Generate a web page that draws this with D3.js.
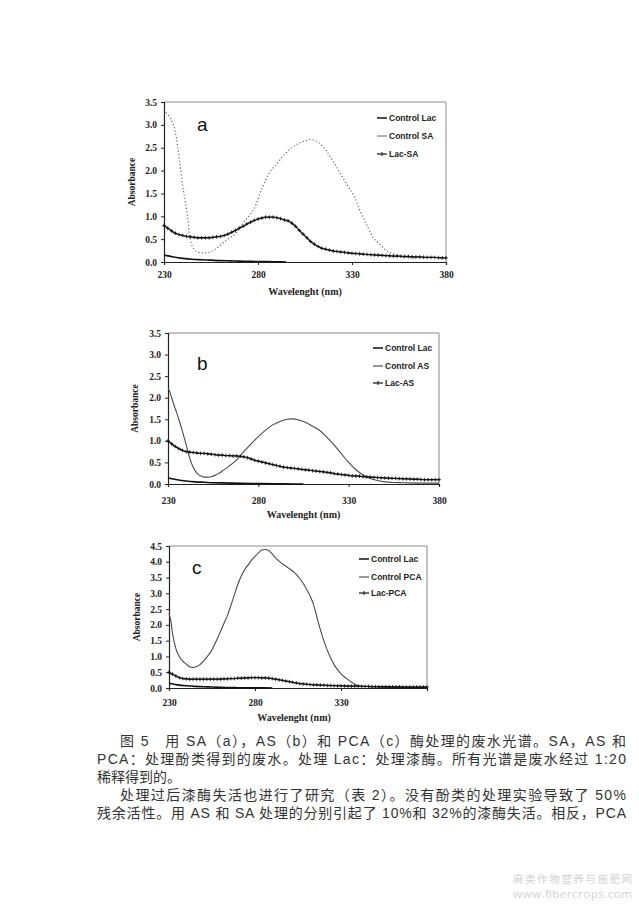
<!DOCTYPE html>
<html><head><meta charset="utf-8">
<script src="https://cdn.jsdelivr.net/npm/d3@7"></script>
<style>body{margin:0;background:#fff;overflow:hidden}</style>
</head><body>
<script>
// ---------- DATA ----------
const xTicksAB = [230, 280, 330, 380];
const xTicksC = [230, 280, 330];
const yTicksAB = [0, 0.5, 1.0, 1.5, 2.0, 2.5, 3.0, 3.5];
const yTicksC = [0, 0.5, 1.0, 1.5, 2.0, 2.5, 3.0, 3.5, 4.0, 4.5];
const legendA = ["Control Lac", "Control SA", "Lac-SA"];
const legendB = ["Control Lac", "Control AS", "Lac-AS"];
const legendC = ["Control Lac", "Control PCA", "Lac-PCA"];

// wavelengths of the marker series (every 2 nm)
const wlMarked = d3.range(230, 381, 2);

// Panel a
const ctrlLacA = [[230,0.15],[235,0.11],[240,0.08],[245,0.06],[250,0.05],[255,0.04],[260,0.03],[265,0.025],[270,0.02],[275,0.015],[280,0.01],[285,0.01],[290,0.005],[295,0.0]];
const ctrlSA = [[230,3.33],[232,3.22],[234,3.10],[236,2.85],[238,2.30],[240,1.65],[242,1.15],[244,0.50],[246,0.28],[248,0.22],[250,0.20],[252,0.20],[254,0.21],[256,0.25],[258,0.30],[260,0.37],[264,0.50],[268,0.62],[272,0.85],[276,1.05],[278,1.17],[282,1.60],[286,1.95],[290,2.15],[294,2.35],[298,2.50],[302,2.60],[306,2.66],[308,2.68],[310,2.66],[312,2.62],[316,2.45],[320,2.20],[324,1.92],[328,1.65],[331,1.45],[334,1.15],[338,0.80],[341,0.55],[345,0.38],[348,0.26],[352,0.18],[356,0.12],[360,0.10],[364,0.08]];
const lacSA = [0.80,0.74,0.68,0.63,0.60,0.58,0.56,0.55,0.54,0.53,0.53,0.53,0.53,0.54,0.55,0.56,0.58,0.61,0.65,0.69,0.74,0.78,0.83,0.87,0.91,0.94,0.96,0.98,0.98,0.98,0.97,0.95,0.92,0.90,0.85,0.78,0.69,0.61,0.53,0.45,0.39,0.34,0.30,0.28,0.26,0.24,0.23,0.22,0.21,0.20,0.19,0.185,0.18,0.17,0.165,0.16,0.155,0.15,0.145,0.14,0.135,0.13,0.13,0.125,0.12,0.12,0.115,0.11,0.11,0.105,0.10,0.10,0.10,0.095,0.09,0.09];

// Panel b
const ctrlLacB = [[230,0.14],[235,0.10],[240,0.07],[245,0.05],[250,0.04],[255,0.03],[260,0.025],[270,0.015],[280,0.01],[290,0.005],[300,0.0],[305,0.0]];
const ctrlAS = [[230,2.22],[231,2.14],[232,2.00],[234,1.75],[236,1.50],[238,1.22],[240,0.92],[242,0.60],[244,0.38],[246,0.25],[248,0.19],[250,0.16],[252,0.16],[254,0.17],[256,0.20],[258,0.24],[260,0.30],[264,0.42],[268,0.56],[272,0.75],[276,0.93],[280,1.10],[284,1.25],[288,1.37],[292,1.45],[296,1.50],[299,1.51],[302,1.49],[306,1.43],[310,1.34],[314,1.24],[318,1.08],[322,0.90],[326,0.70],[330,0.50],[334,0.33],[338,0.21],[342,0.13],[346,0.08],[350,0.05],[355,0.035],[360,0.03],[370,0.02],[380,0.02]];
const lacAS = [1.00,0.93,0.87,0.82,0.78,0.75,0.74,0.73,0.72,0.71,0.71,0.70,0.69,0.68,0.67,0.67,0.66,0.66,0.65,0.65,0.64,0.63,0.61,0.58,0.55,0.53,0.51,0.49,0.47,0.45,0.43,0.41,0.39,0.38,0.37,0.36,0.35,0.34,0.33,0.32,0.31,0.30,0.29,0.28,0.27,0.26,0.24,0.23,0.22,0.21,0.20,0.19,0.185,0.18,0.17,0.165,0.16,0.155,0.15,0.145,0.14,0.135,0.13,0.13,0.125,0.12,0.12,0.115,0.11,0.11,0.105,0.10,0.10,0.10,0.10,0.10];

// Panel c
const ctrlLacC = [[230,0.15],[235,0.10],[240,0.07],[245,0.05],[250,0.04],[255,0.03],[260,0.02],[270,0.01],[280,0.005],[290,0.0]];
const ctrlPCA = [[230,2.35],[231,2.15],[232,1.75],[234,1.25],[236,1.00],[238,0.85],[240,0.76],[242,0.67],[244,0.65],[246,0.68],[248,0.74],[250,0.85],[252,0.98],[254,1.12],[256,1.32],[258,1.55],[260,1.80],[262,2.05],[264,2.30],[266,2.62],[268,2.95],[270,3.28],[272,3.55],[274,3.75],[276,3.90],[278,4.05],[280,4.17],[282,4.28],[284,4.37],[286,4.39],[288,4.36],[290,4.25],[292,4.12],[294,4.02],[296,3.93],[298,3.86],[300,3.78],[302,3.70],[304,3.60],[306,3.47],[308,3.32],[310,3.13],[312,2.92],[314,2.65],[316,2.25],[318,1.85],[320,1.50],[322,1.20],[324,0.95],[326,0.74],[328,0.58],[330,0.45],[332,0.35],[334,0.27],[336,0.19],[338,0.12],[340,0.08],[344,0.05],[350,0.03],[360,0.02],[370,0.02],[380,0.02]];
const lacPCA = [0.50,0.44,0.38,0.33,0.30,0.29,0.28,0.28,0.28,0.28,0.28,0.28,0.28,0.28,0.28,0.28,0.29,0.29,0.30,0.30,0.31,0.31,0.32,0.32,0.33,0.33,0.33,0.32,0.32,0.31,0.30,0.28,0.26,0.24,0.22,0.20,0.18,0.16,0.14,0.13,0.12,0.11,0.10,0.10,0.09,0.09,0.08,0.08,0.075,0.07,0.07,0.065,0.06,0.06,0.06,0.055,0.05,0.05,0.05,0.045,0.045,0.04,0.04,0.04,0.04,0.035,0.035,0.035,0.03,0.03,0.03,0.03,0.03,0.03,0.03,0.03];

const captionLines = [
  "图 5　用 SA（a），AS（b）和 PCA（c）酶处理的废水光谱。SA，AS 和",
  "PCA：处理酚类得到的废水。处理 Lac：处理漆酶。所有光谱是废水经过 1:20",
  "稀释得到的。",
  "处理过后漆酶失活也进行了研究（表 2）。没有酚类的处理实验导致了 50%",
  "残余活性。用 AS 和 SA 处理的分别引起了 10%和 32%的漆酶失活。相反，PCA"
];
const watermark = ["麻类作物营养与施肥网", "www.fibercrops.com"];

// ---------- DRAW ----------
const W = 639, H = 905;
const svg = d3.select("body").append("svg").attr("width", W).attr("height", H);
svg.append("rect").attr("width", W).attr("height", H).attr("fill", "#fff");

const serif = "'Liberation Serif','DejaVu Serif',serif";
const sans = "'Liberation Sans',Arial,sans-serif";

const toPairs = arr => arr.map((v, i) => [wlMarked[i], v]);

const panels = [
  {letter:"a", L:164, R:446, T:102, B:262, ymax:3.5, yTicks:yTicksAB, xTicks:xTicksAB,
   letterPos:[197,124], legX:377, legY:[118,136,154], legend:legendA, xLabDy:12, titleY:291, yTitleX:132,
   series:[{d:ctrlLacA, s:"lac"},{d:ctrlSA, s:"dot"},{d:toPairs(lacSA), s:"mark"}]},
  {letter:"b", L:168, R:439, T:333, B:484, ymax:3.5, yTicks:yTicksAB, xTicks:xTicksAB,
   letterPos:[197,363], legX:373, legY:[348,366,383], legend:legendB, xLabDy:16, titleY:514, yTitleX:135,
   series:[{d:ctrlLacB, s:"lac"},{d:ctrlAS, s:"gray"},{d:toPairs(lacAS), s:"mark"}]},
  {letter:"c", L:169, R:427, T:546, B:688, ymax:4.5, yTicks:yTicksC, xTicks:xTicksC,
   letterPos:[192,567], legX:359, legY:[559,577,593], legend:legendC, xLabDy:14, titleY:717, yTitleX:137,
   series:[{d:ctrlLacC, s:"lac"},{d:ctrlPCA, s:"gray"},{d:toPairs(lacPCA), s:"mark"}]}
];

panels.forEach(p => {
  const x = d3.scaleLinear().domain([230, 380]).range([p.L, p.R]);
  const y = d3.scaleLinear().domain([0, p.ymax]).range([p.B, p.T]);
  const g = svg.append("g");

  // frame (top/right gray)
  g.append("path").attr("d", `M${p.L},${p.T}H${p.R}V${p.B}`).attr("fill","none").attr("stroke","#8a8a8a").attr("stroke-width",1);

  // axes
  const ya = g.append("g").attr("transform", `translate(${p.L},0)`)
    .call(d3.axisLeft(y).tickValues(p.yTicks).tickFormat(d3.format(".1f")).tickSize(3).tickPadding(4));
  const xa = g.append("g").attr("transform", `translate(0,${p.B})`)
    .call(d3.axisBottom(x).tickValues(p.xTicks).tickFormat(d3.format("d")).tickSize(3).tickPadding(p.xLabDy - 6));
  [ya, xa].forEach(a => {
    a.select(".domain").attr("stroke", "#222").attr("stroke-width", 1.2);
    a.selectAll(".tick line").attr("stroke", "#222");
    a.selectAll("text").attr("font-family", serif).attr("font-weight", "bold").attr("font-size", 9.5).attr("fill", "#222");
  });

  const line = d3.line().x(d => x(d[0])).y(d => y(d[1])).curve(d3.curveMonotoneX);

  p.series.forEach(s => {
    const path = g.append("path").attr("d", line(s.d)).attr("fill", "none");
    if (s.s === "lac") path.attr("stroke", "#111").attr("stroke-width", 1.6);
    else if (s.s === "dot") path.attr("stroke", "#666").attr("stroke-width", 1.2).attr("stroke-dasharray", "1.2,2.2");
    else if (s.s === "gray") path.attr("stroke", "#4a4a4a").attr("stroke-width", 1.1);
    else {
      path.attr("stroke", "#111").attr("stroke-width", 1.3);
      g.append("g").selectAll("path").data(s.d).join("path")
        .attr("d", d => `M${x(d[0])-1.8},${y(d[1])}h3.6M${x(d[0])},${y(d[1])-1.8}v3.6`)
        .attr("stroke", "#111").attr("stroke-width", 0.9);
    }
  });

  // panel letter
  g.append("text").attr("x", p.letterPos[0]).attr("y", p.letterPos[1]).attr("dominant-baseline","central")
    .attr("font-family", sans).attr("font-size", 19).attr("fill", "#111").text(p.letter);

  // legend
  p.legend.forEach((name, i) => {
    const ly = p.legY[i];
    const st = p.series[i].s;
    const lg = g.append("g");
    const l = lg.append("line").attr("x1", p.legX).attr("x2", p.legX + 10).attr("y1", ly).attr("y2", ly);
    if (st === "lac") l.attr("stroke", "#111").attr("stroke-width", 1.5);
    else if (st === "dot") l.attr("stroke", "#666").attr("stroke-width", 1);
    else if (st === "gray") l.attr("stroke", "#444").attr("stroke-width", 1.1);
    else {
      l.attr("stroke", "#111").attr("stroke-width", 1.2);
      lg.append("path").attr("d", `M${p.legX+5},${ly-2}v4`).attr("stroke", "#111").attr("stroke-width", 1);
    }
    lg.append("text").attr("x", p.legX + 12).attr("y", ly).attr("dominant-baseline", "central")
      .attr("font-family", sans).attr("font-weight", "bold").attr("font-size", 8.5).attr("fill", "#222").text(name);
  });

  // axis titles
  g.append("text").attr("x", (p.L + p.R) / 2 + (p.letter==="c" ? -4 : 0)).attr("y", p.titleY)
    .attr("text-anchor", "middle").attr("dominant-baseline", "central")
    .attr("font-family", serif).attr("font-weight", "bold").attr("font-size", 10).attr("fill", "#222")
    .text("Wavelenght (nm)");
  g.append("text").attr("transform", `translate(${p.yTitleX},${(p.T + p.B) / 2}) rotate(-90)`)
    .attr("text-anchor", "middle").attr("dominant-baseline", "central")
    .attr("font-family", serif).attr("font-weight", "bold").attr("font-size", 9.5).attr("fill", "#222")
    .text("Absorbance");
});

// caption
const cap = [
  {x:120, y:741, w:506}, {x:97, y:759, w:529}, {x:97, y:777, w:null},
  {x:120, y:795, w:506}, {x:97, y:813, w:529}
];
captionLines.forEach((t, i) => {
  const c = cap[i];
  const tx = svg.append("text").attr("x", c.x).attr("y", c.y).attr("dominant-baseline", "central")
    .attr("font-family", "'Liberation Sans','Noto Sans CJK SC',sans-serif").attr("font-size", 14)
    .attr("fill", "#333").text(t);
  if (c.w) tx.attr("textLength", c.w).attr("lengthAdjust", "spacing");
});

// watermark
svg.append("text").attr("x", 513).attr("y", 878).attr("dominant-baseline", "central")
  .attr("font-family", "'Noto Sans CJK SC',sans-serif").attr("font-size", 10.5).attr("fill", "#d2d2d2")
  .attr("textLength", 119).text(watermark[0]);
svg.append("text").attr("x", 513).attr("y", 893).attr("dominant-baseline", "central")
  .attr("font-family", "'Open Sans',sans-serif").attr("font-size", 11.5).attr("fill", "#d2d2d2")
  .attr("textLength", 119).text(watermark[1]);
</script>
</body></html>
